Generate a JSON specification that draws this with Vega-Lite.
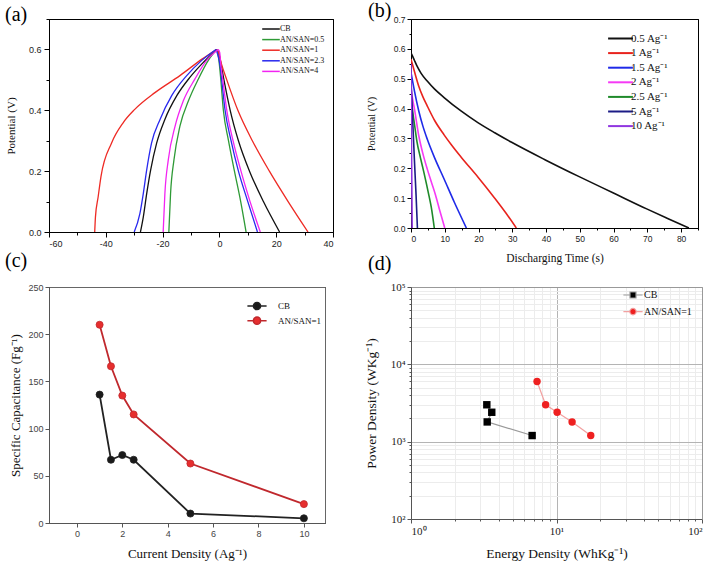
{
  "$schema": "https://vega.github.io/schema/vega-lite/v6.json",
  "background": "white",
  "padding": {"left": 4, "top": 0, "right": 2, "bottom": 2},
  "columns": 2,
  "align": "none",
  "bounds": "flush",
  "spacing": {"row": 55, "column": 78},
  "config": {
    "view": {"stroke": "#000", "strokeWidth": 1},
    "axis": {"labelFont": "Liberation Sans", "titleFont": "Liberation Serif", "titleFontWeight": "normal", "grid": false, "domainColor": "#000", "tickColor": "#000", "labelColor": "#222", "titleColor": "#111"},
    "legend": {"labelFont": "Liberation Serif", "padding": 0, "title": null, "labelColor": "#111"},
    "title": {"font": "Liberation Serif", "fontWeight": "normal", "fontSize": 20, "color": "#000", "anchor": "start", "frame": "group", "baseline": "alphabetic"}
  },
  "resolve": {"scale": {"color": "independent", "fill": "independent", "stroke": "independent", "x": "independent", "y": "independent"}, "legend": {"color": "independent", "stroke": "independent"}},
  "datasets": {
    "gcd": [
      {"s": "CB", "k": "c", "t": -27.8, "v": 0}, {"s": "CB", "k": "c", "t": -26.8, "v": 0.049}, {"s": "CB", "k": "c", "t": -25.6, "v": 0.126}, {"s": "CB", "k": "c", "t": -24.2, "v": 0.204}, {"s": "CB", "k": "c", "t": -22.1, "v": 0.292}, {"s": "CB", "k": "c", "t": -19.2, "v": 0.37}, {"s": "CB", "k": "c", "t": -15.0, "v": 0.448}, {"s": "CB", "k": "c", "t": -10.4, "v": 0.508}, {"s": "CB", "k": "c", "t": -5.6, "v": 0.558}, {"s": "CB", "k": "c", "t": -1.0, "v": 0.6},
      {"s": "CB", "k": "d", "t": -1.0, "v": 0.6}, {"s": "CB", "k": "d", "t": -0.3, "v": 0.59}, {"s": "CB", "k": "d", "t": 0.6, "v": 0.55}, {"s": "CB", "k": "d", "t": 1.6, "v": 0.5}, {"s": "CB", "k": "d", "t": 3.8, "v": 0.4}, {"s": "CB", "k": "d", "t": 6.7, "v": 0.3}, {"s": "CB", "k": "d", "t": 10.6, "v": 0.2}, {"s": "CB", "k": "d", "t": 15.5, "v": 0.1}, {"s": "CB", "k": "d", "t": 21.2, "v": 0},
      {"s": "AN/SAN=0.5", "k": "c", "t": -17.8, "v": 0}, {"s": "AN/SAN=0.5", "k": "c", "t": -17.2, "v": 0.126}, {"s": "AN/SAN=0.5", "k": "c", "t": -16.0, "v": 0.237}, {"s": "AN/SAN=0.5", "k": "c", "t": -13.9, "v": 0.348}, {"s": "AN/SAN=0.5", "k": "c", "t": -10.9, "v": 0.431}, {"s": "AN/SAN=0.5", "k": "c", "t": -7.4, "v": 0.503}, {"s": "AN/SAN=0.5", "k": "c", "t": -3.9, "v": 0.564}, {"s": "AN/SAN=0.5", "k": "c", "t": -0.9, "v": 0.6},
      {"s": "AN/SAN=0.5", "k": "d", "t": -0.9, "v": 0.6}, {"s": "AN/SAN=0.5", "k": "d", "t": -0.6, "v": 0.59}, {"s": "AN/SAN=0.5", "k": "d", "t": 0.0, "v": 0.55}, {"s": "AN/SAN=0.5", "k": "d", "t": 0.5, "v": 0.5}, {"s": "AN/SAN=0.5", "k": "d", "t": 1.4, "v": 0.4}, {"s": "AN/SAN=0.5", "k": "d", "t": 3.2, "v": 0.3}, {"s": "AN/SAN=0.5", "k": "d", "t": 5.3, "v": 0.2}, {"s": "AN/SAN=0.5", "k": "d", "t": 7.5, "v": 0.1}, {"s": "AN/SAN=0.5", "k": "d", "t": 9.4, "v": 0},
      {"s": "AN/SAN=1", "k": "c", "t": -43.9, "v": 0}, {"s": "AN/SAN=1", "k": "c", "t": -43.65, "v": 0.049}, {"s": "AN/SAN=1", "k": "c", "t": -42.7, "v": 0.115}, {"s": "AN/SAN=1", "k": "c", "t": -41.7, "v": 0.182}, {"s": "AN/SAN=1", "k": "c", "t": -38.0, "v": 0.292}, {"s": "AN/SAN=1", "k": "c", "t": -33.9, "v": 0.359}, {"s": "AN/SAN=1", "k": "c", "t": -29.8, "v": 0.403}, {"s": "AN/SAN=1", "k": "c", "t": -22.7, "v": 0.458}, {"s": "AN/SAN=1", "k": "c", "t": -13.9, "v": 0.514}, {"s": "AN/SAN=1", "k": "c", "t": -6.0, "v": 0.569}, {"s": "AN/SAN=1", "k": "c", "t": -1.0, "v": 0.6},
      {"s": "AN/SAN=1", "k": "d", "t": -1.0, "v": 0.6}, {"s": "AN/SAN=1", "k": "d", "t": -0.3, "v": 0.59}, {"s": "AN/SAN=1", "k": "d", "t": 0.8, "v": 0.55}, {"s": "AN/SAN=1", "k": "d", "t": 2.6, "v": 0.5}, {"s": "AN/SAN=1", "k": "d", "t": 6.5, "v": 0.4}, {"s": "AN/SAN=1", "k": "d", "t": 11.6, "v": 0.3}, {"s": "AN/SAN=1", "k": "d", "t": 17.6, "v": 0.2}, {"s": "AN/SAN=1", "k": "d", "t": 24.2, "v": 0.1}, {"s": "AN/SAN=1", "k": "d", "t": 31.2, "v": 0},
      {"s": "AN/SAN=2.3", "k": "c", "t": -30.0, "v": 0}, {"s": "AN/SAN=2.3", "k": "c", "t": -28.0, "v": 0.06}, {"s": "AN/SAN=2.3", "k": "c", "t": -26.8, "v": 0.126}, {"s": "AN/SAN=2.3", "k": "c", "t": -25.6, "v": 0.204}, {"s": "AN/SAN=2.3", "k": "c", "t": -23.9, "v": 0.292}, {"s": "AN/SAN=2.3", "k": "c", "t": -20.9, "v": 0.37}, {"s": "AN/SAN=2.3", "k": "c", "t": -16.8, "v": 0.448}, {"s": "AN/SAN=2.3", "k": "c", "t": -11.5, "v": 0.514}, {"s": "AN/SAN=2.3", "k": "c", "t": -6.2, "v": 0.564}, {"s": "AN/SAN=2.3", "k": "c", "t": -1.2, "v": 0.6},
      {"s": "AN/SAN=2.3", "k": "d", "t": -1.2, "v": 0.6}, {"s": "AN/SAN=2.3", "k": "d", "t": -0.8, "v": 0.59}, {"s": "AN/SAN=2.3", "k": "d", "t": 0.2, "v": 0.55}, {"s": "AN/SAN=2.3", "k": "d", "t": 0.8, "v": 0.5}, {"s": "AN/SAN=2.3", "k": "d", "t": 2.0, "v": 0.4}, {"s": "AN/SAN=2.3", "k": "d", "t": 4.1, "v": 0.3}, {"s": "AN/SAN=2.3", "k": "d", "t": 6.7, "v": 0.2}, {"s": "AN/SAN=2.3", "k": "d", "t": 10.0, "v": 0.1}, {"s": "AN/SAN=2.3", "k": "d", "t": 13.4, "v": 0},
      {"s": "AN/SAN=4", "k": "c", "t": -19.8, "v": 0}, {"s": "AN/SAN=4", "k": "c", "t": -19.2, "v": 0.126}, {"s": "AN/SAN=4", "k": "c", "t": -18.0, "v": 0.237}, {"s": "AN/SAN=4", "k": "c", "t": -15.6, "v": 0.348}, {"s": "AN/SAN=4", "k": "c", "t": -12.7, "v": 0.431}, {"s": "AN/SAN=4", "k": "c", "t": -8.6, "v": 0.503}, {"s": "AN/SAN=4", "k": "c", "t": -4.5, "v": 0.564}, {"s": "AN/SAN=4", "k": "c", "t": -0.4, "v": 0.6},
      {"s": "AN/SAN=4", "k": "d", "t": -0.4, "v": 0.6}, {"s": "AN/SAN=4", "k": "d", "t": 0.1, "v": 0.59}, {"s": "AN/SAN=4", "k": "d", "t": 0.5, "v": 0.55}, {"s": "AN/SAN=4", "k": "d", "t": 1.2, "v": 0.5}, {"s": "AN/SAN=4", "k": "d", "t": 2.6, "v": 0.4}, {"s": "AN/SAN=4", "k": "d", "t": 4.8, "v": 0.3}, {"s": "AN/SAN=4", "k": "d", "t": 7.6, "v": 0.2}, {"s": "AN/SAN=4", "k": "d", "t": 10.8, "v": 0.1}, {"s": "AN/SAN=4", "k": "d", "t": 14.4, "v": 0}
    ],
    "rate": [
      {"s": "0.5 Ag⁻¹", "t": 0, "v": 0.587}, {"s": "0.5 Ag⁻¹", "t": 0.5, "v": 0.575}, {"s": "0.5 Ag⁻¹", "t": 1, "v": 0.562}, {"s": "0.5 Ag⁻¹", "t": 1.8, "v": 0.542}, {"s": "0.5 Ag⁻¹", "t": 3, "v": 0.518}, {"s": "0.5 Ag⁻¹", "t": 4.8, "v": 0.492}, {"s": "0.5 Ag⁻¹", "t": 7, "v": 0.465}, {"s": "0.5 Ag⁻¹", "t": 9.8, "v": 0.437}, {"s": "0.5 Ag⁻¹", "t": 14.8, "v": 0.392}, {"s": "0.5 Ag⁻¹", "t": 19.8, "v": 0.353}, {"s": "0.5 Ag⁻¹", "t": 24.8, "v": 0.319}, {"s": "0.5 Ag⁻¹", "t": 29.8, "v": 0.287}, {"s": "0.5 Ag⁻¹", "t": 39.8, "v": 0.228}, {"s": "0.5 Ag⁻¹", "t": 49.8, "v": 0.172}, {"s": "0.5 Ag⁻¹", "t": 59.8, "v": 0.118}, {"s": "0.5 Ag⁻¹", "t": 69.8, "v": 0.064}, {"s": "0.5 Ag⁻¹", "t": 76, "v": 0.032}, {"s": "0.5 Ag⁻¹", "t": 82.3, "v": 0},
      {"s": "1 Ag⁻¹", "t": 0, "v": 0.565}, {"s": "1 Ag⁻¹", "t": 0.5, "v": 0.545}, {"s": "1 Ag⁻¹", "t": 1, "v": 0.525}, {"s": "1 Ag⁻¹", "t": 2.3, "v": 0.475}, {"s": "1 Ag⁻¹", "t": 3.5, "v": 0.44}, {"s": "1 Ag⁻¹", "t": 4.8, "v": 0.409}, {"s": "1 Ag⁻¹", "t": 7, "v": 0.36}, {"s": "1 Ag⁻¹", "t": 9.8, "v": 0.312}, {"s": "1 Ag⁻¹", "t": 12, "v": 0.278}, {"s": "1 Ag⁻¹", "t": 14.8, "v": 0.238}, {"s": "1 Ag⁻¹", "t": 19.8, "v": 0.171}, {"s": "1 Ag⁻¹", "t": 24.8, "v": 0.1}, {"s": "1 Ag⁻¹", "t": 28, "v": 0.052}, {"s": "1 Ag⁻¹", "t": 31.2, "v": 0},
      {"s": "1.5 Ag⁻¹", "t": 0, "v": 0.52}, {"s": "1.5 Ag⁻¹", "t": 0.5, "v": 0.49}, {"s": "1.5 Ag⁻¹", "t": 1, "v": 0.46}, {"s": "1.5 Ag⁻¹", "t": 2.3, "v": 0.392}, {"s": "1.5 Ag⁻¹", "t": 3.5, "v": 0.342}, {"s": "1.5 Ag⁻¹", "t": 4.8, "v": 0.298}, {"s": "1.5 Ag⁻¹", "t": 7, "v": 0.235}, {"s": "1.5 Ag⁻¹", "t": 9.8, "v": 0.164}, {"s": "1.5 Ag⁻¹", "t": 12.8, "v": 0.087}, {"s": "1.5 Ag⁻¹", "t": 16.4, "v": 0},
      {"s": "2 Ag⁻¹", "t": 0, "v": 0.47}, {"s": "2 Ag⁻¹", "t": 0.5, "v": 0.43}, {"s": "2 Ag⁻¹", "t": 1, "v": 0.4}, {"s": "2 Ag⁻¹", "t": 2.3, "v": 0.309}, {"s": "2 Ag⁻¹", "t": 3.5, "v": 0.25}, {"s": "2 Ag⁻¹", "t": 4.8, "v": 0.198}, {"s": "2 Ag⁻¹", "t": 6, "v": 0.155}, {"s": "2 Ag⁻¹", "t": 7.3, "v": 0.109}, {"s": "2 Ag⁻¹", "t": 8.6, "v": 0.055}, {"s": "2 Ag⁻¹", "t": 10, "v": 0},
      {"s": "2.5 Ag⁻¹", "t": 0, "v": 0.44}, {"s": "2.5 Ag⁻¹", "t": 0.5, "v": 0.39}, {"s": "2.5 Ag⁻¹", "t": 1, "v": 0.35}, {"s": "2.5 Ag⁻¹", "t": 1.8, "v": 0.287}, {"s": "2.5 Ag⁻¹", "t": 2.8, "v": 0.235}, {"s": "2.5 Ag⁻¹", "t": 3.8, "v": 0.187}, {"s": "2.5 Ag⁻¹", "t": 5.3, "v": 0.109}, {"s": "2.5 Ag⁻¹", "t": 6.0, "v": 0.07}, {"s": "2.5 Ag⁻¹", "t": 6.9, "v": 0},
      {"s": "5 Ag⁻¹", "t": 0, "v": 0.5}, {"s": "5 Ag⁻¹", "t": 0.5, "v": 0.36}, {"s": "5 Ag⁻¹", "t": 1, "v": 0.23}, {"s": "5 Ag⁻¹", "t": 1.5, "v": 0.11}, {"s": "5 Ag⁻¹", "t": 1.9, "v": 0},
      {"s": "10 Ag⁻¹", "t": 0, "v": 0.55}, {"s": "10 Ag⁻¹", "t": 0.15, "v": 0.28}, {"s": "10 Ag⁻¹", "t": 0.35, "v": 0}
    ],
    "cap": [
      {"s": "CB", "j": 1, "c": 136}, {"s": "CB", "j": 1.5, "c": 67}, {"s": "CB", "j": 2, "c": 72}, {"s": "CB", "j": 2.5, "c": 67}, {"s": "CB", "j": 5, "c": 10}, {"s": "CB", "j": 10, "c": 5},
      {"s": "AN/SAN=1", "j": 1, "c": 210}, {"s": "AN/SAN=1", "j": 1.5, "c": 166}, {"s": "AN/SAN=1", "j": 2, "c": 135}, {"s": "AN/SAN=1", "j": 2.5, "c": 115}, {"s": "AN/SAN=1", "j": 5, "c": 63}, {"s": "AN/SAN=1", "j": 10, "c": 20}
    ],
    "rag": [
      {"s": "CB", "o": 1, "e": 3.32, "p": 3000}, {"s": "CB", "o": 2, "e": 3.59, "p": 2400}, {"s": "CB", "o": 3, "e": 3.34, "p": 1800}, {"s": "CB", "o": 4, "e": 6.8, "p": 1200},
      {"s": "AN/SAN=1", "o": 1, "e": 7.35, "p": 6000}, {"s": "AN/SAN=1", "o": 2, "e": 8.42, "p": 3000}, {"s": "AN/SAN=1", "o": 3, "e": 10.1, "p": 2400}, {"s": "AN/SAN=1", "o": 4, "e": 12.8, "p": 1800}, {"s": "AN/SAN=1", "o": 5, "e": 17.2, "p": 1200}
    ]
  },
  "concat": [
    {
      "width": 284, "height": 213,
      "title": {"text": "(a)", "dx": -44, "offset": -6},
      "data": {"name": "gcd"},
      "resolve": {"axis": {"x": "independent", "y": "independent"}},
      "layer": [
        {
          "mark": {"type": "line", "strokeWidth": 1.3, "clip": true, "interpolate": "monotone"},
          "encoding": {
            "x": {"field": "t", "type": "quantitative", "scale": {"domain": [-60, 40], "nice": false, "zero": false},
              "axis": {"title": null, "values": [-60, -50, -40, -30, -20, -10, 0, 10, 20, 30, 40], "labelExpr": "datum.value % 20 == 0 ? '' + datum.value : ''", "tickSize": {"condition": {"test": "datum.value % 20 == 0", "value": 5}, "value": 3}, "labelFontSize": 9, "labelPadding": 2}},
            "y": {"field": "v", "type": "quantitative", "scale": {"domain": [0, 0.7], "nice": false},
              "axis": {"title": "Potential (V)", "titleFontSize": 11, "values": [0, 0.1, 0.2, 0.3, 0.4, 0.5, 0.6, 0.7], "labelExpr": "round(datum.value*10) % 2 == 0 ? format(datum.value, '.1f') : ''", "tickSize": {"condition": {"test": "round(datum.value*10) % 2 == 0", "value": 5}, "value": 3}, "labelFontSize": 9, "labelPadding": 3, "titlePadding": 12}},
            "detail": {"field": "k", "type": "nominal"},
            "color": {"field": "s", "type": "nominal",
              "scale": {"domain": ["CB", "AN/SAN=0.5", "AN/SAN=1", "AN/SAN=2.3", "AN/SAN=4"], "range": ["#111111", "#2e9a36", "#ee2a24", "#2828ee", "#f224f2"]},
              "legend": {"orient": "none", "legendX": 217, "legendY": 5, "labelFontSize": 8, "symbolType": "M-2.2,0H2.2", "symbolSize": 64, "symbolStrokeWidth": 1.5, "labelOffset": 4, "rowPadding": 1.6}}
          }
        },
        {
          "mark": {"type": "line", "opacity": 0},
          "encoding": {
            "x": {"field": "t", "type": "quantitative", "axis": {"orient": "top", "labels": false, "ticks": false, "title": null, "domainColor": "#000"}},
            "y": {"field": "v", "type": "quantitative", "axis": {"orient": "right", "labels": false, "ticks": false, "title": null, "domainColor": "#000"}}
          }
        }
      ]
    },
    {
      "width": 287, "height": 209,
      "title": {"text": "(b)", "dx": -43, "offset": -6},
      "data": {"name": "rate"},
      "resolve": {"axis": {"x": "independent", "y": "independent"}},
      "layer": [
        {
          "mark": {"type": "line", "strokeWidth": 1.6, "clip": true, "interpolate": "monotone"},
          "encoding": {
            "x": {"field": "t", "type": "quantitative", "scale": {"domain": [0, 85], "nice": false},
              "axis": {"title": "Discharging Time (s)", "titleFontSize": 11.5, "titlePadding": 10, "values": [0, 5, 10, 15, 20, 25, 30, 35, 40, 45, 50, 55, 60, 65, 70, 75, 80, 85], "labelExpr": "datum.value % 10 == 0 ? '' + datum.value : ''", "tickSize": {"condition": {"test": "datum.value % 10 == 0", "value": 4}, "value": 2}, "labelFontSize": 8.5, "labelPadding": 2}},
            "y": {"field": "v", "type": "quantitative", "scale": {"domain": [0, 0.7], "nice": false},
              "axis": {"title": "Potential (V)", "titleFontSize": 10.5, "titlePadding": 17, "values": [0, 0.05, 0.1, 0.15, 0.2, 0.25, 0.3, 0.35, 0.4, 0.45, 0.5, 0.55, 0.6, 0.65, 0.7], "labelExpr": "abs(datum.value*10 - round(datum.value*10)) < 0.001 ? format(datum.value, '.1f') : ''", "tickSize": {"condition": {"test": "abs(datum.value*10 - round(datum.value*10)) < 0.001", "value": 4}, "value": 2}, "labelFontSize": 8.5, "labelPadding": 2}},
            "color": {"field": "s", "type": "nominal",
              "scale": {"domain": ["0.5 Ag⁻¹", "1 Ag⁻¹", "1.5 Ag⁻¹", "2 Ag⁻¹", "2.5 Ag⁻¹", "5 Ag⁻¹", "10 Ag⁻¹"], "range": ["#111111", "#e8231d", "#1f2ae8", "#f53af5", "#1f8a2a", "#1c1c86", "#9036e0"]},
              "legend": {"orient": "none", "legendX": 204, "legendY": 14, "labelFontSize": 11, "symbolType": "M-3.1,0H3.1", "symbolSize": 64, "symbolStrokeWidth": 2, "labelOffset": 5, "rowPadding": 2.6}}
          }
        },
        {
          "mark": {"type": "line", "opacity": 0},
          "encoding": {
            "x": {"field": "t", "type": "quantitative", "axis": {"orient": "top", "labels": false, "ticks": false, "title": null, "domainColor": "#000"}},
            "y": {"field": "v", "type": "quantitative", "axis": {"orient": "right", "labels": false, "ticks": false, "title": null, "domainColor": "#000"}}
          }
        }
      ]
    },
    {
      "width": 276, "height": 236,
      "title": {"text": "(c)", "dx": -44, "offset": 12},
      "data": {"name": "cap"},
      "resolve": {"axis": {"x": "independent", "y": "independent"}},
      "layer": [
        {
          "mark": {"type": "line", "strokeWidth": 1.8},
          "encoding": {
            "x": {"field": "j", "type": "quantitative", "scale": {"domain": [-1.23, 10.93], "nice": false, "zero": false},
              "axis": {"title": "Current Density (Ag⁻¹)", "titleFontSize": 13, "titlePadding": 9, "values": [0, 2, 4, 6, 8, 10], "labelFontSize": 9, "labelColor": "#444", "domainColor": "#555", "tickColor": "#555", "tickSize": 4, "labelPadding": 2}},
            "y": {"field": "c", "type": "quantitative", "scale": {"domain": [0, 250], "nice": false},
              "axis": {"title": "Specific Capacitance (Fg⁻¹)", "titleFontSize": 13, "titlePadding": 5, "values": [0, 50, 100, 150, 200, 250], "labelFontSize": 9, "labelColor": "#444", "domainColor": "#555", "tickColor": "#555", "tickSize": 4, "labelPadding": 2}},
            "stroke": {"field": "s", "type": "nominal", "scale": {"domain": ["CB", "AN/SAN=1"], "range": ["#222222", "#c0282d"]},
              "legend": {"orient": "none", "legendX": 203, "legendY": 14, "labelFontSize": 9, "symbolType": "M-2.4,0H-0.9M0.9,0H2.4M0.9,0A0.9,0.9,0,1,1,-0.9,0A0.9,0.9,0,1,1,0.9,0", "symbolSize": 64, "symbolStrokeWidth": 1.5, "labelOffset": 16, "rowPadding": 0.7,
                "encode": {"symbols": {"update": {"fill": {"signal": "datum.value == 'CB' ? '#1a1a1a' : '#e62e2e'"}}}}}}
          }
        },
        {
          "mark": {"type": "point", "filled": true, "size": 50, "strokeWidth": 0.8, "opacity": 1},
          "encoding": {
            "x": {"field": "j", "type": "quantitative", "axis": null},
            "y": {"field": "c", "type": "quantitative", "axis": null},
            "fill": {"condition": {"test": "datum.s == 'CB'", "value": "#1a1a1a"}, "value": "#e62e2e"},
            "stroke": {"field": "s", "type": "nominal", "scale": {"domain": ["CB", "AN/SAN=1"], "range": ["#222222", "#c0282d"]}}
          }
        },
        {
          "mark": {"type": "line", "opacity": 0},
          "encoding": {
            "x": {"field": "j", "type": "quantitative", "axis": {"orient": "top", "labels": false, "ticks": false, "title": null, "domainColor": "#666"}},
            "y": {"field": "c", "type": "quantitative", "axis": {"orient": "right", "labels": false, "ticks": false, "title": null, "domainColor": "#666"}}
          }
        }
      ]
    },
    {
      "width": 291, "height": 232,
      "title": {"text": "(d)", "dx": -43, "offset": 7},
      "data": {"name": "rag"},
      "resolve": {"axis": {"x": "independent", "y": "independent"}},
      "layer": [
        {
          "mark": {"type": "line", "strokeWidth": 1.2},
          "encoding": {
            "x": {"field": "e", "type": "quantitative", "scale": {"type": "log", "domain": [1, 100], "nice": false},
              "axis": {"title": "Energy Density (WhKg⁻¹)", "titleFontSize": 13.5, "titlePadding": 10, "labelFont": "Liberation Serif", "labelFontSize": 11, "labelColor": "#222", "domainColor": "#555", "tickColor": "#555",
                "values": [1, 2, 3, 4, 5, 6, 7, 8, 9, 10, 20, 30, 40, 50, 60, 70, 80, 90, 100],
                "labelExpr": "datum.value == 1 ? '10⁰' : datum.value == 10 ? '10¹' : datum.value == 100 ? '10²' : ''",
                "grid": true, "gridColor": {"condition": {"test": "datum.value == 10", "value": "#b4b4b4"}, "value": "#ececec"}, "gridWidth": 1,
                "tickSize": {"condition": {"test": "datum.value == 1 || datum.value == 10 || datum.value == 100", "value": 4}, "value": 2}, "labelPadding": 2}},
            "y": {"field": "p", "type": "quantitative", "scale": {"type": "log", "domain": [100, 100000], "nice": false},
              "axis": {"title": "Power Density (WKg⁻¹)", "titleFontSize": 13.5, "titlePadding": 12, "labelFont": "Liberation Serif", "labelFontSize": 11, "labelColor": "#222", "domainColor": "#555", "tickColor": "#555",
                "values": [100, 200, 300, 400, 500, 600, 700, 800, 900, 1000, 2000, 3000, 4000, 5000, 6000, 7000, 8000, 9000, 10000, 20000, 30000, 40000, 50000, 60000, 70000, 80000, 90000, 100000],
                "labelExpr": "datum.value == 100 ? '10²' : datum.value == 1000 ? '10³' : datum.value == 10000 ? '10⁴' : datum.value == 100000 ? '10⁵' : ''",
                "grid": true, "gridColor": {"condition": {"test": "datum.value == 1000 || datum.value == 10000", "value": "#b4b4b4"}, "value": "#ececec"}, "gridWidth": 1,
                "tickSize": {"condition": {"test": "datum.value == 100 || datum.value == 1000 || datum.value == 10000 || datum.value == 100000", "value": 4}, "value": 2}, "labelPadding": 2}},
            "order": {"field": "o", "type": "quantitative"},
            "stroke": {"field": "s", "type": "nominal", "scale": {"domain": ["CB", "AN/SAN=1"], "range": ["#9a9a9a", "#f2a0a0"]},
              "legend": {"orient": "none", "legendX": 217, "legendY": 3, "labelFontSize": 10, "symbolSize": 64, "symbolStrokeWidth": 1.2, "labelOffset": 6, "rowPadding": 4.6,
                "encode": {"symbols": {"update": {
                  "shape": {"signal": "datum.value == 'CB' ? 'M-2.4,0H-0.75M0.75,0H2.4M-0.75,-0.75H0.75V0.75H-0.75Z' : 'M-2.4,0H-0.8M0.8,0H2.4M0.8,0A0.8,0.8,0,1,1,-0.8,0A0.8,0.8,0,1,1,0.8,0'"},
                  "fill": {"signal": "datum.value == 'CB' ? '#000000' : '#ee2020'"}}}}}}
          }
        },
        {
          "mark": {"type": "point", "filled": true, "size": 55, "opacity": 1},
          "encoding": {
            "x": {"field": "e", "type": "quantitative", "axis": null},
            "y": {"field": "p", "type": "quantitative", "axis": null},
            "fill": {"condition": {"test": "datum.s == 'CB'", "value": "#000000"}, "value": "#ee2020"},
            "shape": {"condition": {"test": "datum.s == 'CB'", "value": "square"}, "value": "circle"}
          }
        },
        {
          "mark": {"type": "line", "opacity": 0},
          "encoding": {
            "x": {"field": "e", "type": "quantitative", "axis": {"orient": "top", "labels": false, "ticks": false, "title": null, "domainColor": "#999", "grid": false}},
            "y": {"field": "p", "type": "quantitative", "axis": {"orient": "right", "labels": false, "ticks": false, "title": null, "domainColor": "#999", "grid": false}}
          }
        }
      ]
    }
  ]
}
